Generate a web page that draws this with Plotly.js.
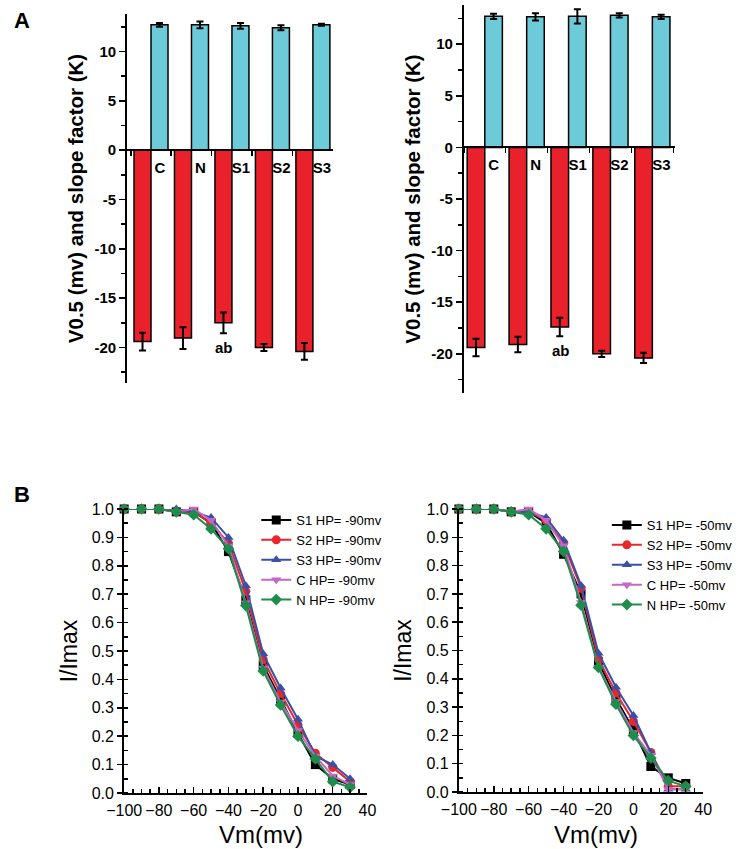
<!DOCTYPE html>
<html>
<head>
<meta charset="utf-8">
<script src="https://cdn.plot.ly/plotly-3.0.1.min.js"></script>
<style>html,body{margin:0;padding:0;background:#fff;}#chart{width:738px;height:849px;}</style>
</head>
<body>
<div id="chart"></div>
<script>
// ---- Data: panel A (bar charts) ----
const groups = ['C', 'N', 'S1', 'S2', 'S3'];
const slopeLeft = [12.7, 12.7, 12.6, 12.4, 12.7];
const slopeLeftErr = [0.2, 0.35, 0.3, 0.25, 0.1];
const vhalfLeft = [-19.4, -19.05, -17.5, -20.0, -20.4];
const vhalfLeftErr = [0.9, 1.1, 1.05, 0.35, 0.85];
const slopeRight = [12.7, 12.65, 12.7, 12.8, 12.65];
const slopeRightErr = [0.25, 0.35, 0.7, 0.2, 0.2];
const vhalfRight = [-19.4, -19.1, -17.4, -20.0, -20.4];
const vhalfRightErr = [0.85, 0.75, 0.9, 0.3, 0.5];

// ---- Data: panel B (inactivation curves) ----
const vm = [-100, -90, -80, -70, -60, -50, -40, -30, -20, -10, 0, 10, 20, 30];
const s1_90 = [1.0, 1.0, 1.0, 0.99, 0.99, 0.95, 0.85, 0.68, 0.45, 0.33, 0.21, 0.10, 0.05, 0.03];
const s2_90 = [1.0, 1.0, 1.0, 0.99, 0.99, 0.95, 0.88, 0.71, 0.47, 0.35, 0.24, 0.14, 0.09, 0.04];
const s3_90 = [1.0, 1.0, 1.0, 1.0, 0.99, 0.97, 0.90, 0.73, 0.49, 0.37, 0.26, 0.13, 0.10, 0.05];
const c_90  = [1.0, 1.0, 1.0, 0.99, 1.0, 0.96, 0.87, 0.67, 0.44, 0.32, 0.22, 0.13, 0.06, 0.03];
const n_90  = [1.0, 1.0, 1.0, 0.99, 0.98, 0.93, 0.86, 0.66, 0.43, 0.31, 0.20, 0.12, 0.04, 0.02];
const s1_50 = [1.0, 1.0, 1.0, 0.99, 0.99, 0.95, 0.84, 0.70, 0.46, 0.33, 0.22, 0.09, 0.05, 0.03];
const s2_50 = [1.0, 1.0, 1.0, 0.99, 0.99, 0.96, 0.88, 0.72, 0.47, 0.35, 0.25, 0.14, 0.02, 0.02];
const s3_50 = [1.0, 1.0, 1.0, 0.99, 0.99, 0.97, 0.89, 0.73, 0.49, 0.37, 0.27, 0.14, 0.01, 0.01];
const c_50  = [1.0, 1.0, 1.0, 0.99, 1.0, 0.96, 0.87, 0.67, 0.44, 0.32, 0.21, 0.13, 0.01, 0.01];
const n_50  = [1.0, 1.0, 1.0, 0.99, 0.98, 0.93, 0.85, 0.66, 0.44, 0.31, 0.20, 0.12, 0.04, 0.02];
const seriesNames = ['S1', 'S2', 'S3', 'C', 'N'];

// ---- Styles ----
const RED = '#E8212A', CYAN = '#6DCAD9';
const lineColors = ['#000000', '#E8262B', '#3A4FA6', '#C467C6', '#1E8C4B'];
const symbols = ['square', 'circle', 'triangle-up', 'triangle-down', 'diamond'];
const W = 738, H = 849;
const FAM = 'Liberation Sans, Arial, sans-serif';
const boldFont = {family: FAM, size: 15, color: '#000', weight: 'bold'};
const narrowBold = {family: 'Liberation Sans Narrow, Liberation Sans, Arial, sans-serif', size: 15, color: '#000', weight: 'bold'};
const plainFont = {family: FAM, size: 16, color: '#000'};

function px2x(a, b) { return [a / W, b / W]; }
function px2y(top, bottom) { return [1 - bottom / H, 1 - top / H]; }
function zeroPos(dom, r) { return dom[0] + (0 - r[0]) / (r[1] - r[0]) * (dom[1] - dom[0]); }

const traces = [];
function barPair(vh, vhErr, sl, slErr, xa, ya) {
  const eb = (arr) => ({type: 'data', array: arr, visible: true, color: '#000', thickness: 2, width: 3.5});
  traces.push({type: 'bar', x: groups, y: vh, xaxis: xa, yaxis: ya, marker: {color: RED, line: {color: '#000', width: 1.5}},
    error_y: eb(vhErr), showlegend: false, hoverinfo: 'skip'});
  traces.push({type: 'bar', x: groups, y: sl, xaxis: xa, yaxis: ya, marker: {color: CYAN, line: {color: '#000', width: 1.5}},
    error_y: eb(slErr), showlegend: false, hoverinfo: 'skip'});
}
barPair(vhalfLeft, vhalfLeftErr, slopeLeft, slopeLeftErr, 'x', 'y');
barPair(vhalfRight, vhalfRightErr, slopeRight, slopeRightErr, 'x2', 'y2');

function curves(data, hp, xa, ya, leg) {
  data.forEach((ys, i) => {
    traces.push({type: 'scatter', mode: 'lines+markers', x: vm, y: ys, xaxis: xa, yaxis: ya,
      name: seriesNames[i] + ' HP= ' + hp + 'mv', legend: leg, cliponaxis: false,
      line: {color: lineColors[i], width: 2}, marker: {symbol: symbols[i], size: 9, color: lineColors[i]},
      hoverinfo: 'skip'});
  });
}
curves([s1_90, s2_90, s3_90, c_90, n_90], '-90', 'x3', 'y3', 'legend');
curves([s1_50, s2_50, s3_50, c_50, n_50], '-50', 'x4', 'y4', 'legend2');

// ---- Geometry ----
const dxA = px2x(128, 335), dyA = px2y(14, 383), ryA = [-23.6, 13.8];
const dxB = px2x(467, 680), dyB = px2y(5, 393), ryB = [-23.8, 13.8];
const dx3 = px2x(125, 370), dy3 = px2y(509, 793);
const dx4 = px2x(462, 708), dy4 = px2y(509, 792);

function barX(dom, ydom, yr, range) {
  return {domain: dom, anchor: 'free', position: zeroPos(ydom, yr), type: 'category',
    categoryorder: 'array', categoryarray: groups, range: range,
    showline: true, linewidth: 2, linecolor: '#000', ticks: 'outside', ticklen: 5, tickwidth: 1.5, tickcolor: '#000',
    tickson: 'boundaries', ticklabelshift: 9, ticklabelstandoff: 4, tickfont: narrowBold,
    showgrid: false, zeroline: false, fixedrange: true};
}
function barY(dom, xa, range) {
  return {domain: dom, anchor: xa, range: range, tickvals: [-20, -15, -10, -5, 0, 5, 10], ticktext: ['-20', '-15', '-10', '-5', '0', '5', '10'],
    showline: true, linewidth: 2, linecolor: '#000', ticks: 'outside', ticklen: 6, tickwidth: 1.5, tickcolor: '#000',
    minor: {tickvals: [-22.5, -17.5, -12.5, -7.5, -2.5, 2.5, 7.5, 12.5], ticks: 'outside', ticklen: 4, tickwidth: 1.5, tickcolor: '#000'},
    tickfont: boldFont, showgrid: false, zeroline: false,
    title: {text: 'V0.5 (mv) and slope factor (K)', font: {family: FAM, size: 20.5, color: '#000', weight: 'bold'}, standoff: 5},
    fixedrange: true};
}
function lineX(dom, ya) {
  return {domain: dom, anchor: ya, range: [-100, 40], dtick: 20, tick0: 0,
    showline: true, linewidth: 2, linecolor: '#000', ticks: 'inside', ticklen: 6, tickwidth: 1.5, tickcolor: '#000',
    minor: {dtick: 5, ticks: 'inside', ticklen: 4, tickwidth: 1.5, tickcolor: '#000'},
    ticklabelstandoff: 2,
    tickfont: plainFont, showgrid: false, zeroline: false, fixedrange: true};
}
function lineY(dom, xa) {
  return {domain: dom, anchor: xa, range: [0, 1.0], dtick: 0.1, tickformat: '.1f',
    showline: true, linewidth: 2, linecolor: '#000', ticks: 'outside', ticklen: 5, tickwidth: 1.5, tickcolor: '#000',
    minor: {dtick: 0.05, ticks: 'inside', ticklen: 4, tickwidth: 1.5, tickcolor: '#000'},
    tickfont: plainFont, showgrid: false, zeroline: false,
    title: {text: 'I/Imax', font: {family: FAM, size: 23, color: '#000'}, standoff: 8},
    fixedrange: true};
}
const legFont = {family: FAM, size: 13, color: '#000'};
const xTitleFont = {family: FAM, size: 24, color: '#000'};

const layout = {
  width: W, height: H, margin: {l: 0, r: 0, t: 0, b: 0}, paper_bgcolor: '#fff', plot_bgcolor: 'rgba(0,0,0,0)',
  barmode: 'group', bargap: 0.16, bargroupgap: 0,
  xaxis: barX(dxA, dyA, ryA, [-0.59, 4.49]),
  yaxis: barY(dyA, 'x', ryA),
  xaxis2: barX(dxB, dyB, ryB, [-0.5, 4.55]),
  yaxis2: barY(dyB, 'x2', ryB),
  xaxis3: lineX(dx3, 'y3'),
  yaxis3: lineY(dy3, 'x3'),
  xaxis4: lineX(dx4, 'y4'),
  yaxis4: lineY(dy4, 'x4'),
  legend: {x: 258 / W, y: 1 - 505 / H, xanchor: 'left', yanchor: 'top', font: legFont, bgcolor: 'rgba(0,0,0,0)', tracegroupgap: 0, itemwidth: 30},
  legend2: {x: 611 / W, y: 1 - 510 / H, xanchor: 'left', yanchor: 'top', font: legFont, bgcolor: 'rgba(0,0,0,0)', tracegroupgap: 0, itemwidth: 30},
  annotations: [
    {text: 'A', xref: 'paper', yref: 'paper', x: 12 / W, y: 1 - 6 / H, xanchor: 'left', yanchor: 'top', showarrow: false,
      font: {family: FAM, size: 22, color: '#000', weight: 'bold'}},
    {text: 'B', xref: 'paper', yref: 'paper', x: 12 / W, y: 1 - 480 / H, xanchor: 'left', yanchor: 'top', showarrow: false,
      font: {family: FAM, size: 22, color: '#000', weight: 'bold'}},
    {text: 'ab', xref: 'x', yref: 'y', x: 'S1', y: -20.0, xshift: -8, showarrow: false, font: narrowBold},
    {text: 'ab', xref: 'x2', yref: 'y2', x: 'S1', y: -19.7, xshift: -8, showarrow: false, font: narrowBold},
    {text: 'Vm(mv)', xref: 'x3 domain', yref: 'paper', x: (263 - 125) / 245, y: 0, xanchor: 'center', yanchor: 'bottom', showarrow: false, font: xTitleFont, borderpad: 0},
    {text: 'Vm(mv)', xref: 'x4 domain', yref: 'paper', x: (600 - 462) / 246, y: 0, xanchor: 'center', yanchor: 'bottom', showarrow: false, font: xTitleFont, borderpad: 0}
  ]
};

Plotly.newPlot('chart', traces, layout, {staticPlot: true, displayModeBar: false});
</script>
</body>
</html>
